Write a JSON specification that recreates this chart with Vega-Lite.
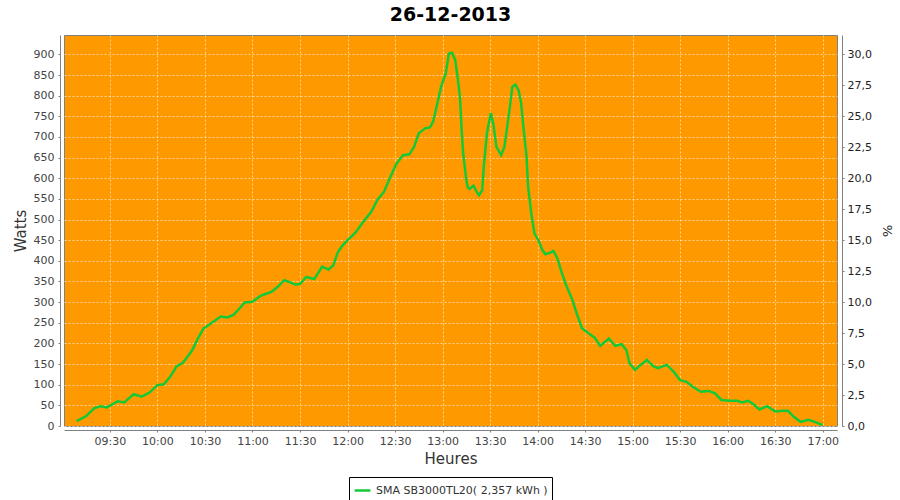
{
  "$schema": "https://vega.github.io/schema/vega-lite/v6.json",
  "width": 773,
  "height": 391,
  "autosize": {"type": "none"},
  "padding": {"left": 64, "top": 35, "right": 63, "bottom": 74},
  "background": "white",
  "title": {"text": "26-12-2013", "fontSize": 19, "font": "DejaVu Sans", "fontWeight": "bold", "color": "#000000", "anchor": "middle", "offset": 10},
  "config": {"view": {"fill": "#ff9900", "stroke": "#808080", "strokeWidth": 1}, "font": "DejaVu Sans"},
  "data": {"values": [
    {"t": "2013-12-26T09:09:00Z", "watts": 12, "serie": "SMA SB3000TL20( 2,357 kWh )"},
    {"t": "2013-12-26T09:15:00Z", "watts": 24, "serie": "SMA SB3000TL20( 2,357 kWh )"},
    {"t": "2013-12-26T09:20:00Z", "watts": 43, "serie": "SMA SB3000TL20( 2,357 kWh )"},
    {"t": "2013-12-26T09:24:00Z", "watts": 48, "serie": "SMA SB3000TL20( 2,357 kWh )"},
    {"t": "2013-12-26T09:28:00Z", "watts": 45, "serie": "SMA SB3000TL20( 2,357 kWh )"},
    {"t": "2013-12-26T09:35:00Z", "watts": 60, "serie": "SMA SB3000TL20( 2,357 kWh )"},
    {"t": "2013-12-26T09:39:00Z", "watts": 57, "serie": "SMA SB3000TL20( 2,357 kWh )"},
    {"t": "2013-12-26T09:45:00Z", "watts": 77, "serie": "SMA SB3000TL20( 2,357 kWh )"},
    {"t": "2013-12-26T09:50:00Z", "watts": 71, "serie": "SMA SB3000TL20( 2,357 kWh )"},
    {"t": "2013-12-26T09:55:00Z", "watts": 81, "serie": "SMA SB3000TL20( 2,357 kWh )"},
    {"t": "2013-12-26T10:00:00Z", "watts": 99, "serie": "SMA SB3000TL20( 2,357 kWh )"},
    {"t": "2013-12-26T10:04:00Z", "watts": 101, "serie": "SMA SB3000TL20( 2,357 kWh )"},
    {"t": "2013-12-26T10:08:00Z", "watts": 119, "serie": "SMA SB3000TL20( 2,357 kWh )"},
    {"t": "2013-12-26T10:12:00Z", "watts": 144, "serie": "SMA SB3000TL20( 2,357 kWh )"},
    {"t": "2013-12-26T10:16:00Z", "watts": 153, "serie": "SMA SB3000TL20( 2,357 kWh )"},
    {"t": "2013-12-26T10:19:00Z", "watts": 168, "serie": "SMA SB3000TL20( 2,357 kWh )"},
    {"t": "2013-12-26T10:22:00Z", "watts": 184, "serie": "SMA SB3000TL20( 2,357 kWh )"},
    {"t": "2013-12-26T10:25:00Z", "watts": 208, "serie": "SMA SB3000TL20( 2,357 kWh )"},
    {"t": "2013-12-26T10:29:00Z", "watts": 236, "serie": "SMA SB3000TL20( 2,357 kWh )"},
    {"t": "2013-12-26T10:31:00Z", "watts": 241, "serie": "SMA SB3000TL20( 2,357 kWh )"},
    {"t": "2013-12-26T10:35:00Z", "watts": 252, "serie": "SMA SB3000TL20( 2,357 kWh )"},
    {"t": "2013-12-26T10:40:00Z", "watts": 265, "serie": "SMA SB3000TL20( 2,357 kWh )"},
    {"t": "2013-12-26T10:44:00Z", "watts": 263, "serie": "SMA SB3000TL20( 2,357 kWh )"},
    {"t": "2013-12-26T10:48:00Z", "watts": 269, "serie": "SMA SB3000TL20( 2,357 kWh )"},
    {"t": "2013-12-26T10:51:00Z", "watts": 281, "serie": "SMA SB3000TL20( 2,357 kWh )"},
    {"t": "2013-12-26T10:55:00Z", "watts": 299, "serie": "SMA SB3000TL20( 2,357 kWh )"},
    {"t": "2013-12-26T11:00:00Z", "watts": 301, "serie": "SMA SB3000TL20( 2,357 kWh )"},
    {"t": "2013-12-26T11:05:00Z", "watts": 315, "serie": "SMA SB3000TL20( 2,357 kWh )"},
    {"t": "2013-12-26T11:09:00Z", "watts": 321, "serie": "SMA SB3000TL20( 2,357 kWh )"},
    {"t": "2013-12-26T11:12:00Z", "watts": 325, "serie": "SMA SB3000TL20( 2,357 kWh )"},
    {"t": "2013-12-26T11:16:00Z", "watts": 337, "serie": "SMA SB3000TL20( 2,357 kWh )"},
    {"t": "2013-12-26T11:20:00Z", "watts": 353, "serie": "SMA SB3000TL20( 2,357 kWh )"},
    {"t": "2013-12-26T11:23:00Z", "watts": 349, "serie": "SMA SB3000TL20( 2,357 kWh )"},
    {"t": "2013-12-26T11:27:00Z", "watts": 343, "serie": "SMA SB3000TL20( 2,357 kWh )"},
    {"t": "2013-12-26T11:30:00Z", "watts": 344, "serie": "SMA SB3000TL20( 2,357 kWh )"},
    {"t": "2013-12-26T11:34:00Z", "watts": 361, "serie": "SMA SB3000TL20( 2,357 kWh )"},
    {"t": "2013-12-26T11:39:00Z", "watts": 356, "serie": "SMA SB3000TL20( 2,357 kWh )"},
    {"t": "2013-12-26T11:44:00Z", "watts": 386, "serie": "SMA SB3000TL20( 2,357 kWh )"},
    {"t": "2013-12-26T11:48:00Z", "watts": 379, "serie": "SMA SB3000TL20( 2,357 kWh )"},
    {"t": "2013-12-26T11:51:00Z", "watts": 389, "serie": "SMA SB3000TL20( 2,357 kWh )"},
    {"t": "2013-12-26T11:54:00Z", "watts": 422, "serie": "SMA SB3000TL20( 2,357 kWh )"},
    {"t": "2013-12-26T11:57:00Z", "watts": 438, "serie": "SMA SB3000TL20( 2,357 kWh )"},
    {"t": "2013-12-26T12:00:00Z", "watts": 450, "serie": "SMA SB3000TL20( 2,357 kWh )"},
    {"t": "2013-12-26T12:05:00Z", "watts": 468, "serie": "SMA SB3000TL20( 2,357 kWh )"},
    {"t": "2013-12-26T12:10:00Z", "watts": 495, "serie": "SMA SB3000TL20( 2,357 kWh )"},
    {"t": "2013-12-26T12:15:00Z", "watts": 519, "serie": "SMA SB3000TL20( 2,357 kWh )"},
    {"t": "2013-12-26T12:19:00Z", "watts": 549, "serie": "SMA SB3000TL20( 2,357 kWh )"},
    {"t": "2013-12-26T12:23:00Z", "watts": 567, "serie": "SMA SB3000TL20( 2,357 kWh )"},
    {"t": "2013-12-26T12:27:00Z", "watts": 603, "serie": "SMA SB3000TL20( 2,357 kWh )"},
    {"t": "2013-12-26T12:31:00Z", "watts": 636, "serie": "SMA SB3000TL20( 2,357 kWh )"},
    {"t": "2013-12-26T12:35:00Z", "watts": 656, "serie": "SMA SB3000TL20( 2,357 kWh )"},
    {"t": "2013-12-26T12:39:00Z", "watts": 658, "serie": "SMA SB3000TL20( 2,357 kWh )"},
    {"t": "2013-12-26T12:42:00Z", "watts": 676, "serie": "SMA SB3000TL20( 2,357 kWh )"},
    {"t": "2013-12-26T12:45:00Z", "watts": 709, "serie": "SMA SB3000TL20( 2,357 kWh )"},
    {"t": "2013-12-26T12:49:00Z", "watts": 721, "serie": "SMA SB3000TL20( 2,357 kWh )"},
    {"t": "2013-12-26T12:52:00Z", "watts": 723, "serie": "SMA SB3000TL20( 2,357 kWh )"},
    {"t": "2013-12-26T12:54:00Z", "watts": 737, "serie": "SMA SB3000TL20( 2,357 kWh )"},
    {"t": "2013-12-26T12:56:00Z", "watts": 769, "serie": "SMA SB3000TL20( 2,357 kWh )"},
    {"t": "2013-12-26T12:59:00Z", "watts": 821, "serie": "SMA SB3000TL20( 2,357 kWh )"},
    {"t": "2013-12-26T13:02:00Z", "watts": 854, "serie": "SMA SB3000TL20( 2,357 kWh )"},
    {"t": "2013-12-26T13:04:00Z", "watts": 902, "serie": "SMA SB3000TL20( 2,357 kWh )"},
    {"t": "2013-12-26T13:06:00Z", "watts": 904, "serie": "SMA SB3000TL20( 2,357 kWh )"},
    {"t": "2013-12-26T13:08:00Z", "watts": 886, "serie": "SMA SB3000TL20( 2,357 kWh )"},
    {"t": "2013-12-26T13:10:00Z", "watts": 830, "serie": "SMA SB3000TL20( 2,357 kWh )"},
    {"t": "2013-12-26T13:11:00Z", "watts": 795, "serie": "SMA SB3000TL20( 2,357 kWh )"},
    {"t": "2013-12-26T13:12:00Z", "watts": 720, "serie": "SMA SB3000TL20( 2,357 kWh )"},
    {"t": "2013-12-26T13:13:00Z", "watts": 660, "serie": "SMA SB3000TL20( 2,357 kWh )"},
    {"t": "2013-12-26T13:14:00Z", "watts": 628, "serie": "SMA SB3000TL20( 2,357 kWh )"},
    {"t": "2013-12-26T13:15:00Z", "watts": 595, "serie": "SMA SB3000TL20( 2,357 kWh )"},
    {"t": "2013-12-26T13:16:00Z", "watts": 577, "serie": "SMA SB3000TL20( 2,357 kWh )"},
    {"t": "2013-12-26T13:17:00Z", "watts": 574, "serie": "SMA SB3000TL20( 2,357 kWh )"},
    {"t": "2013-12-26T13:19:30Z", "watts": 582, "serie": "SMA SB3000TL20( 2,357 kWh )"},
    {"t": "2013-12-26T13:21:30Z", "watts": 567, "serie": "SMA SB3000TL20( 2,357 kWh )"},
    {"t": "2013-12-26T13:23:00Z", "watts": 559, "serie": "SMA SB3000TL20( 2,357 kWh )"},
    {"t": "2013-12-26T13:25:00Z", "watts": 571, "serie": "SMA SB3000TL20( 2,357 kWh )"},
    {"t": "2013-12-26T13:26:00Z", "watts": 628, "serie": "SMA SB3000TL20( 2,357 kWh )"},
    {"t": "2013-12-26T13:28:00Z", "watts": 709, "serie": "SMA SB3000TL20( 2,357 kWh )"},
    {"t": "2013-12-26T13:30:30Z", "watts": 758, "serie": "SMA SB3000TL20( 2,357 kWh )"},
    {"t": "2013-12-26T13:32:00Z", "watts": 733, "serie": "SMA SB3000TL20( 2,357 kWh )"},
    {"t": "2013-12-26T13:34:00Z", "watts": 676, "serie": "SMA SB3000TL20( 2,357 kWh )"},
    {"t": "2013-12-26T13:37:00Z", "watts": 656, "serie": "SMA SB3000TL20( 2,357 kWh )"},
    {"t": "2013-12-26T13:39:00Z", "watts": 676, "serie": "SMA SB3000TL20( 2,357 kWh )"},
    {"t": "2013-12-26T13:40:30Z", "watts": 716, "serie": "SMA SB3000TL20( 2,357 kWh )"},
    {"t": "2013-12-26T13:42:30Z", "watts": 773, "serie": "SMA SB3000TL20( 2,357 kWh )"},
    {"t": "2013-12-26T13:44:00Z", "watts": 821, "serie": "SMA SB3000TL20( 2,357 kWh )"},
    {"t": "2013-12-26T13:46:00Z", "watts": 827, "serie": "SMA SB3000TL20( 2,357 kWh )"},
    {"t": "2013-12-26T13:48:00Z", "watts": 813, "serie": "SMA SB3000TL20( 2,357 kWh )"},
    {"t": "2013-12-26T13:49:30Z", "watts": 785, "serie": "SMA SB3000TL20( 2,357 kWh )"},
    {"t": "2013-12-26T13:51:00Z", "watts": 725, "serie": "SMA SB3000TL20( 2,357 kWh )"},
    {"t": "2013-12-26T13:53:00Z", "watts": 652, "serie": "SMA SB3000TL20( 2,357 kWh )"},
    {"t": "2013-12-26T13:54:00Z", "watts": 579, "serie": "SMA SB3000TL20( 2,357 kWh )"},
    {"t": "2013-12-26T13:56:00Z", "watts": 515, "serie": "SMA SB3000TL20( 2,357 kWh )"},
    {"t": "2013-12-26T13:58:00Z", "watts": 466, "serie": "SMA SB3000TL20( 2,357 kWh )"},
    {"t": "2013-12-26T14:00:30Z", "watts": 450, "serie": "SMA SB3000TL20( 2,357 kWh )"},
    {"t": "2013-12-26T14:03:00Z", "watts": 426, "serie": "SMA SB3000TL20( 2,357 kWh )"},
    {"t": "2013-12-26T14:05:00Z", "watts": 416, "serie": "SMA SB3000TL20( 2,357 kWh )"},
    {"t": "2013-12-26T14:08:00Z", "watts": 420, "serie": "SMA SB3000TL20( 2,357 kWh )"},
    {"t": "2013-12-26T14:10:00Z", "watts": 424, "serie": "SMA SB3000TL20( 2,357 kWh )"},
    {"t": "2013-12-26T14:12:30Z", "watts": 406, "serie": "SMA SB3000TL20( 2,357 kWh )"},
    {"t": "2013-12-26T14:15:00Z", "watts": 374, "serie": "SMA SB3000TL20( 2,357 kWh )"},
    {"t": "2013-12-26T14:18:00Z", "watts": 341, "serie": "SMA SB3000TL20( 2,357 kWh )"},
    {"t": "2013-12-26T14:22:00Z", "watts": 305, "serie": "SMA SB3000TL20( 2,357 kWh )"},
    {"t": "2013-12-26T14:25:00Z", "watts": 269, "serie": "SMA SB3000TL20( 2,357 kWh )"},
    {"t": "2013-12-26T14:28:00Z", "watts": 237, "serie": "SMA SB3000TL20( 2,357 kWh )"},
    {"t": "2013-12-26T14:33:00Z", "watts": 222, "serie": "SMA SB3000TL20( 2,357 kWh )"},
    {"t": "2013-12-26T14:36:00Z", "watts": 214, "serie": "SMA SB3000TL20( 2,357 kWh )"},
    {"t": "2013-12-26T14:39:30Z", "watts": 194, "serie": "SMA SB3000TL20( 2,357 kWh )"},
    {"t": "2013-12-26T14:45:00Z", "watts": 212, "serie": "SMA SB3000TL20( 2,357 kWh )"},
    {"t": "2013-12-26T14:49:00Z", "watts": 194, "serie": "SMA SB3000TL20( 2,357 kWh )"},
    {"t": "2013-12-26T14:53:00Z", "watts": 198, "serie": "SMA SB3000TL20( 2,357 kWh )"},
    {"t": "2013-12-26T14:56:00Z", "watts": 184, "serie": "SMA SB3000TL20( 2,357 kWh )"},
    {"t": "2013-12-26T14:58:00Z", "watts": 152, "serie": "SMA SB3000TL20( 2,357 kWh )"},
    {"t": "2013-12-26T15:01:30Z", "watts": 136, "serie": "SMA SB3000TL20( 2,357 kWh )"},
    {"t": "2013-12-26T15:05:00Z", "watts": 148, "serie": "SMA SB3000TL20( 2,357 kWh )"},
    {"t": "2013-12-26T15:09:00Z", "watts": 160, "serie": "SMA SB3000TL20( 2,357 kWh )"},
    {"t": "2013-12-26T15:13:00Z", "watts": 145, "serie": "SMA SB3000TL20( 2,357 kWh )"},
    {"t": "2013-12-26T15:16:00Z", "watts": 140, "serie": "SMA SB3000TL20( 2,357 kWh )"},
    {"t": "2013-12-26T15:21:30Z", "watts": 148, "serie": "SMA SB3000TL20( 2,357 kWh )"},
    {"t": "2013-12-26T15:26:00Z", "watts": 131, "serie": "SMA SB3000TL20( 2,357 kWh )"},
    {"t": "2013-12-26T15:30:00Z", "watts": 111, "serie": "SMA SB3000TL20( 2,357 kWh )"},
    {"t": "2013-12-26T15:34:00Z", "watts": 107, "serie": "SMA SB3000TL20( 2,357 kWh )"},
    {"t": "2013-12-26T15:38:00Z", "watts": 95, "serie": "SMA SB3000TL20( 2,357 kWh )"},
    {"t": "2013-12-26T15:43:00Z", "watts": 83, "serie": "SMA SB3000TL20( 2,357 kWh )"},
    {"t": "2013-12-26T15:48:00Z", "watts": 85, "serie": "SMA SB3000TL20( 2,357 kWh )"},
    {"t": "2013-12-26T15:52:00Z", "watts": 79, "serie": "SMA SB3000TL20( 2,357 kWh )"},
    {"t": "2013-12-26T15:56:00Z", "watts": 63, "serie": "SMA SB3000TL20( 2,357 kWh )"},
    {"t": "2013-12-26T16:01:00Z", "watts": 61, "serie": "SMA SB3000TL20( 2,357 kWh )"},
    {"t": "2013-12-26T16:06:00Z", "watts": 61, "serie": "SMA SB3000TL20( 2,357 kWh )"},
    {"t": "2013-12-26T16:09:00Z", "watts": 57, "serie": "SMA SB3000TL20( 2,357 kWh )"},
    {"t": "2013-12-26T16:13:00Z", "watts": 61, "serie": "SMA SB3000TL20( 2,357 kWh )"},
    {"t": "2013-12-26T16:16:30Z", "watts": 52, "serie": "SMA SB3000TL20( 2,357 kWh )"},
    {"t": "2013-12-26T16:20:00Z", "watts": 40, "serie": "SMA SB3000TL20( 2,357 kWh )"},
    {"t": "2013-12-26T16:25:00Z", "watts": 48, "serie": "SMA SB3000TL20( 2,357 kWh )"},
    {"t": "2013-12-26T16:30:00Z", "watts": 35, "serie": "SMA SB3000TL20( 2,357 kWh )"},
    {"t": "2013-12-26T16:35:00Z", "watts": 37, "serie": "SMA SB3000TL20( 2,357 kWh )"},
    {"t": "2013-12-26T16:38:00Z", "watts": 37, "serie": "SMA SB3000TL20( 2,357 kWh )"},
    {"t": "2013-12-26T16:41:30Z", "watts": 23, "serie": "SMA SB3000TL20( 2,357 kWh )"},
    {"t": "2013-12-26T16:46:00Z", "watts": 10, "serie": "SMA SB3000TL20( 2,357 kWh )"},
    {"t": "2013-12-26T16:51:00Z", "watts": 15, "serie": "SMA SB3000TL20( 2,357 kWh )"},
    {"t": "2013-12-26T16:55:00Z", "watts": 10, "serie": "SMA SB3000TL20( 2,357 kWh )"},
    {"t": "2013-12-26T17:00:00Z", "watts": 2, "serie": "SMA SB3000TL20( 2,357 kWh )"}
  ]},
  "encoding": {
    "x": {
      "field": "t", "type": "temporal",
      "scale": {"type": "utc", "domain": [1388048460000, 1388077740000], "nice": false},
      "axis": {
        "title": "Heures", "format": "%H:%M", "tickCount": 16,
        "offset": 4, "domainColor": "#808080", "tickColor": "#808080", "tickSize": 2,
        "labelColor": "#444444", "labelFontSize": 11, "labelPadding": 3, "labelFont": "DejaVu Sans",
        "titleFont": "DejaVu Sans", "titleFontSize": 15, "titleFontWeight": "normal", "titleColor": "#333333", "titlePadding": 5,
        "grid": true, "gridColor": "#ffffff", "gridDash": [2, 2], "gridOpacity": 0.6, "labelFlush": false, "labelOverlap": false
      }
    }
  },
  "layer": [
    {
      "mark": {"type": "line", "strokeWidth": 2.5, "clip": true},
      "encoding": {
        "y": {
          "field": "watts", "type": "quantitative",
          "scale": {"domain": [0, 947], "nice": false, "zero": true},
          "axis": {
            "title": "Watts", "values": [0, 50, 100, 150, 200, 250, 300, 350, 400, 450, 500, 550, 600, 650, 700, 750, 800, 850, 900],
            "offset": 4, "domainColor": "#808080", "tickColor": "#808080", "tickSize": 2,
            "labelColor": "#444444", "labelFontSize": 11, "labelPadding": 4, "labelFont": "DejaVu Sans",
            "titleFont": "DejaVu Sans", "titleFontSize": 15, "titleFontWeight": "normal", "titleColor": "#333333", "titlePadding": 5,
            "grid": true, "gridColor": "#ffffff", "gridDash": [2, 2], "gridOpacity": 0.6
          }
        },
        "color": {
          "field": "serie", "type": "nominal",
          "scale": {"range": ["#13c937"]},
          "legend": {
            "title": null, "orient": "none", "legendX": 285, "legendY": 442,
            "symbolType": "stroke", "symbolStrokeWidth": 2.5, "symbolSize": 250,
            "strokeColor": "#000000", "padding": 4, "labelFontSize": 11, "labelColor": "#333333", "labelFont": "DejaVu Sans",
            "labelLimit": 400
          }
        }
      }
    },
    {
      "mark": {"type": "line", "opacity": 0},
      "encoding": {
        "y": {
          "field": "watts", "type": "quantitative",
          "scale": {"domain": [0, 947], "nice": false, "zero": true},
          "axis": {
            "orient": "right", "title": "%",
            "values": [0, 75, 150, 225, 300, 375, 450, 525, 600, 675, 750, 825, 900],
            "labelExpr": "replace(format(datum.value / 30, '.1f'), '.', ',')",
            "offset": 5, "domainColor": "#808080", "tickColor": "#808080", "tickSize": 2,
            "labelColor": "#222222", "labelFontSize": 11, "labelPadding": 3, "labelFont": "DejaVu Sans",
            "titleFont": "DejaVu Sans", "titleFontSize": 13, "titleFontWeight": "normal", "titleColor": "#222222", "titlePadding": 8,
            "grid": false
          }
        }
      }
    }
  ],
  "resolve": {"scale": {"y": "independent"}}
}
